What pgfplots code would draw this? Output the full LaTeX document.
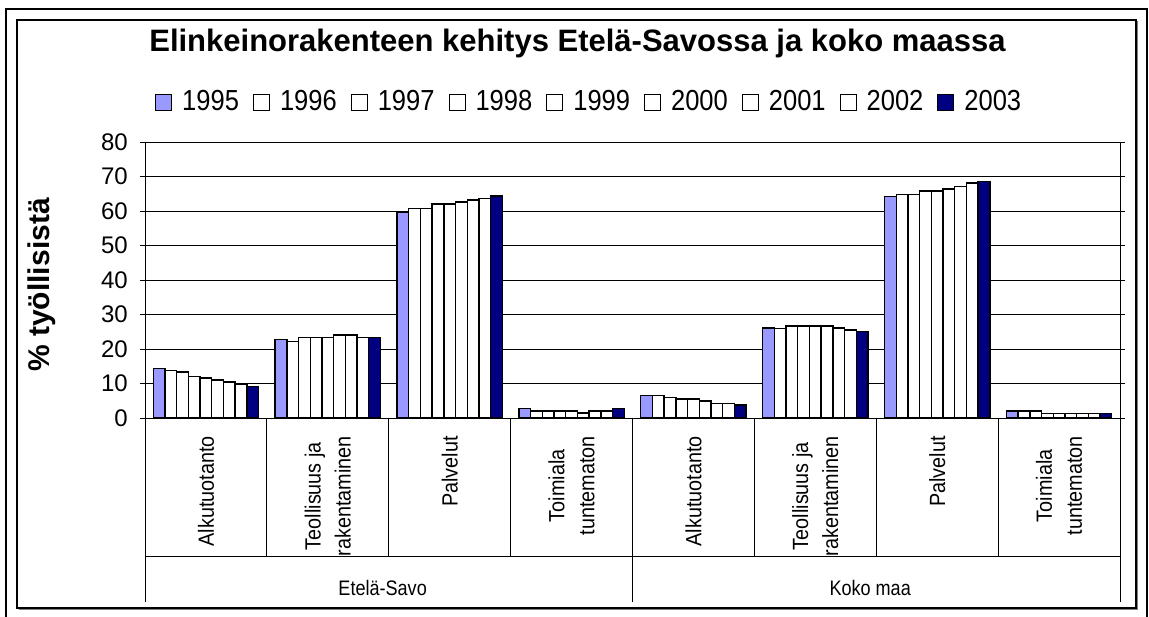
\documentclass[border=0pt]{standalone}
\usepackage{pgfplots}
\usepackage{pgfplotstable}
\pgfplotsset{compat=1.18}
\usepackage{fontspec}
\setmainfont{Liberation Sans}
\newfontfamily\narrowA[FakeStretch=0.88]{Liberation Sans}
\newfontfamily\narrowB[FakeStretch=0.9]{Liberation Sans}
\newfontfamily\narrowC[FakeStretch=0.86]{Liberation Sans}
\definecolor{c95}{HTML}{9999FF}
\definecolor{c03}{HTML}{000080}
\pgfplotstableread{
x y95 y96 y97 y98 y99 y00 y01 y02 y03
0 14.3 13.8 13.3 12.0 11.6 11.0 10.4 9.8 9.2
1 22.7 22.2 23.3 23.3 23.3 24.0 24.0 23.3 23.3
2 59.7 60.8 60.8 62.0 62.0 62.6 63.2 63.7 64.3
3 2.7 2.0 2.0 2.0 2.0 1.4 2.0 2.0 2.7
4 6.6 6.6 6.0 5.5 5.5 4.9 4.2 4.2 3.8
5 26.1 26.0 26.7 26.7 26.7 26.7 26.1 25.5 25.0
6 64.2 64.8 64.8 65.8 65.8 66.4 67.1 68.1 68.6
7 2.0 2.0 2.0 1.35 1.35 1.35 1.35 1.35 1.35
}\data
\begin{document}
\begin{tikzpicture}[x=1pt,y=1pt]
\useasboundingbox (0,0) rectangle (1149,617);
\draw[line width=2pt] (6,0) -- (6,608) -- (1147,608) -- (1147,0);
\draw[gray,line width=1.5pt] (18.5,7.5) -- (1137.5,7.5) -- (1137.5,595.5);
\draw[line width=1.5pt] (17,9) rectangle (1136,597);
\begin{axis}[
  at={(145pt,199pt)}, anchor=south west, scale only axis,
  width=975pt, height=276pt,
  clip=false,
  ymin=0, ymax=80, ytick={0,10,...,80},
  xmin=-0.5, xmax=7.5,
  xtick={0,...,7},
  xticklabels={Alkutuotanto,{Teollisuus ja\\rakentaminen},Palvelut,{Toimiala\\tuntematon},Alkutuotanto,{Teollisuus ja\\rakentaminen},Palvelut,{Toimiala\\tuntematon}},
  xticklabel style={rotate=90, anchor=east, align=center, inner sep=0pt, font=\narrowB\fontsize{22}{30}\selectfont},
  xticklabel shift=13pt,
  xtick style={draw=none},
  ytick style={black, line width=0.8pt},
  tick align=outside,
  major tick length=5pt,
  yticklabel style={font=\fontsize{24}{26}\selectfont, inner sep=0pt, xshift=-12pt},
  /pgf/number format/assume math mode=true,
  ymajorgrids,
  grid style={black, line width=0.8pt},
  axis line style={black, line width=0.8pt},
  ybar=0pt, bar width=11.7pt,
  every axis plot/.append style={draw=black, line width=1.4pt},
  ylabel={\% työllisistä},
  ylabel style={at={(axis description cs:-0.1056,0.482)}, anchor=center, font=\fontsize{30}{32}\selectfont\bfseries},
  title={Elinkeinorakenteen kehitys Etelä-Savossa ja koko maassa},
  title style={at={(axis description cs:0.4436,1.337)}, anchor=center, font=\fontsize{31}{33}\selectfont\bfseries},
  legend columns=9,
  legend style={at={(axis description cs:0.0103,1.1467)}, anchor=west, draw=none, fill=none,
    inner sep=0pt, font=\narrowA\fontsize{29}{31}\selectfont,
    nodes={inner sep=0pt},
    /tikz/every odd column/.append style={column sep=10pt},
    /tikz/every even column/.append style={column sep=14pt}},
  legend image code/.code={\draw[#1, line width=1pt] (0pt,-8.5pt) rectangle (16pt,7.5pt);},
]
\addplot[fill=c95] table[x=x,y=y95] {\data};
\addplot[fill=white] table[x=x,y=y96] {\data};
\addplot[fill=white] table[x=x,y=y97] {\data};
\addplot[fill=white] table[x=x,y=y98] {\data};
\addplot[fill=white] table[x=x,y=y99] {\data};
\addplot[fill=white] table[x=x,y=y00] {\data};
\addplot[fill=white] table[x=x,y=y01] {\data};
\addplot[fill=white] table[x=x,y=y02] {\data};
\addplot[fill=c03] table[x=x,y=y03] {\data};
\legend{1995,1996,1997,1998,1999,2000,2001,2002,2003}
\pgfplotsinvokeforeach{0.5,1.5,2.5,4.5,5.5,6.5}{
  \draw[black, line width=0.8pt] (axis cs:#1,0) -- ++(0pt,-138pt);
}
\pgfplotsinvokeforeach{-0.5,3.5,7.5}{
  \draw[black, line width=0.8pt] (axis cs:#1,0) -- ++(0pt,-184pt);
}
\draw[black, line width=0.8pt] (axis cs:-0.5,0) ++(0pt,-138pt) -- ++(975pt,0pt);
\node[font=\narrowC\fontsize{21}{22}\selectfont] at (axis cs:1.45,0) [yshift=-170pt] {Etelä-Savo};
\node[font=\narrowC\fontsize{21}{22}\selectfont] at (axis cs:5.45,0) [yshift=-170pt] {Koko maa};
\end{axis}
\end{tikzpicture}
\end{document}
